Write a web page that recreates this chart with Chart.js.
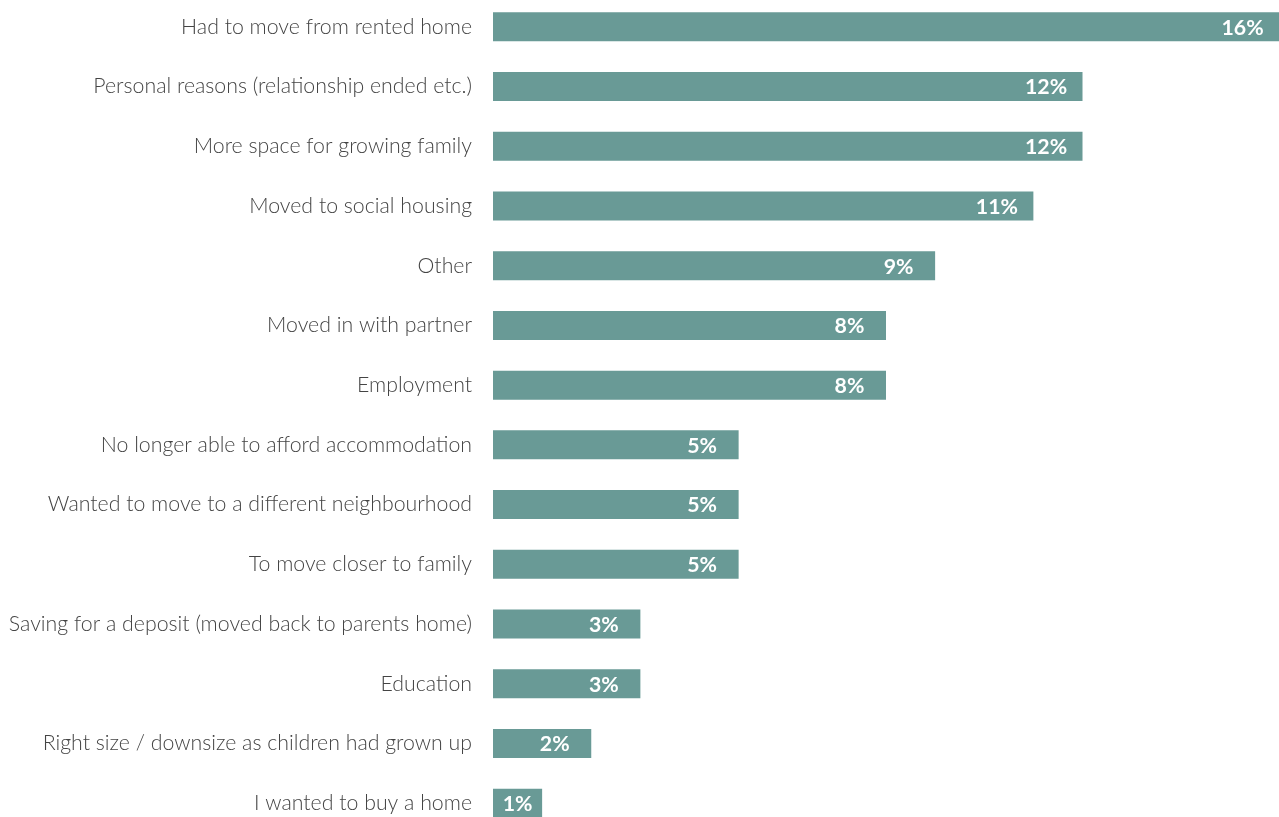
<!DOCTYPE html>
<html><head><meta charset="utf-8">
<script src="https://cdn.jsdelivr.net/npm/chart.js@4"></script>
<style>
html,body{margin:0;padding:0;background:#fff;overflow:hidden;width:1279px;height:817px;}
#c{position:absolute;left:0;top:-3px;}
</style></head>
<body><canvas id="c" width="1279" height="836"></canvas>
<script>
const categories = [
  "Had to move from rented home",
  "Personal reasons (relationship ended etc.)",
  "More space for growing family",
  "Moved to social housing",
  "Other",
  "Moved in with partner",
  "Employment",
  "No longer able to afford accommodation",
  "Wanted to move to a different neighbourhood",
  "To move closer to family",
  "Saving for a deposit (moved back to parents home)",
  "Education",
  "Right size / downsize as children had grown up",
  "I wanted to buy a home"
];
const values = [16, 12, 12, 11, 9, 8, 8, 5, 5, 5, 3, 3, 2, 1];
const valueLabels = ["16%","12%","12%","11%","9%","8%","8%","5%","5%","5%","3%","3%","2%","1%"];

const labelPlugin = {
  id: 'valLabels',
  afterDatasetsDraw(chart) {
    const ctx = chart.ctx;
    const meta = chart.getDatasetMeta(0);
    ctx.save();
    ctx.fillStyle = '#ffffff';
    ctx.font = 'bold 21.3px Lato';
    ctx.textAlign = 'center';
    ctx.textBaseline = 'middle';
    meta.data.forEach((bar, i) => {
      const w = ctx.measureText(valueLabels[i]).width;
      let cx = bar.x - 36.5;
      if (cx - w / 2 < bar.base + 6) cx = (bar.base + bar.x) / 2;
      ctx.fillText(valueLabels[i], cx, bar.y + 1);
    });
    ctx.restore();
  }
};

new Chart(document.getElementById('c'), {
  type: 'bar',
  data: {
    labels: categories,
    datasets: [{
      data: values,
      backgroundColor: '#699a96',
      borderWidth: 0,
      categoryPercentage: 0.486,
      barPercentage: 1
    }]
  },
  options: {
    indexAxis: 'y',
    responsive: false,
    animation: false,
    layout: { padding: 0 },
    plugins: { legend: { display: false }, tooltip: { enabled: false } },
    scales: {
      x: { min: 0, max: 16, display: false },
      y: {
        grid: { display: false, drawTicks: false },
        border: { display: false },
        ticks: { color: '#444444', font: { family: 'Lato', size: 21.3, weight: 300 }, padding: 21 },
        afterFit(scale) { scale.width = 493; scale.paddingTop = 0; scale.paddingBottom = 0; }
      }
    }
  },
  plugins: [labelPlugin]
});
</script></body></html>
